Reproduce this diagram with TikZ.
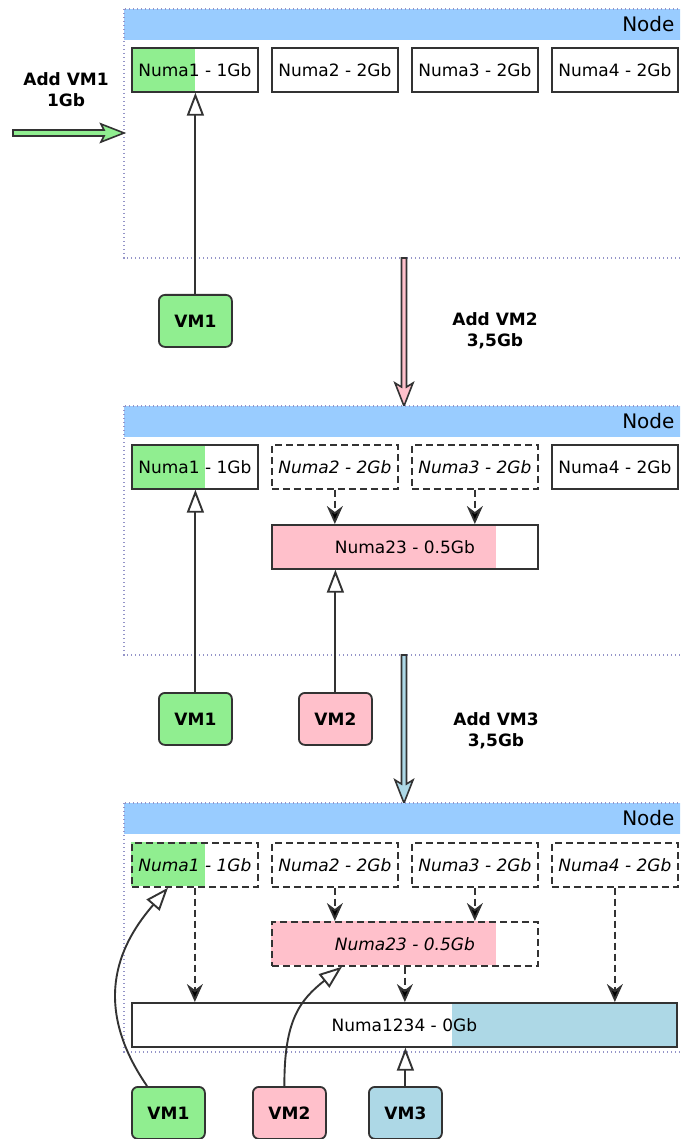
\documentclass[tikz,border=0pt]{standalone}
\usepackage{fontspec}
\setmainfont{DejaVu Sans}
\usetikzlibrary{arrows.meta,calc}
\definecolor{hdr}{HTML}{99CCFF}
\definecolor{lgreen}{HTML}{90EE90}
\definecolor{lpink}{HTML}{FFC0CB}
\definecolor{lblue}{HTML}{ADD8E6}
\definecolor{dotc}{HTML}{9494C8}
\definecolor{edge}{HTML}{333333}
\tikzset{
 numa/.style={draw=edge, line width=1.7pt, minimum width=126pt, minimum height=44pt, inner sep=0pt, font=\fontsize{17}{20}\selectfont, anchor=north west},
 numadash/.style={numa, dash pattern=on 7pt off 4pt, font=\fontsize{17}{20}\selectfont\itshape},
 vm/.style={draw=edge, line width=1.8pt, rounded corners=6pt, minimum width=73pt, minimum height=52pt, inner sep=0pt, font=\fontsize{17}{20}\selectfont\bfseries, anchor=north west},
 nodeframe/.style={draw=dotc, line width=1.6pt, dash pattern=on 1.4pt off 2.6pt},
 hdrtext/.style={anchor=east, font=\fontsize{20}{24}\selectfont},
 addlbl/.style={font=\fontsize{17}{21}\selectfont\bfseries, align=center},
 vmarrow/.style={draw=edge, line width=1.9pt, -{Triangle[length=23pt,width=17pt,fill=white]}},
 merge/.style={draw=edge, line width=1.9pt, dash pattern=on 7pt off 4pt, -{Stealth[length=18pt,width=16pt,inset=6pt,fill=black]}},
 fatarrow/.style={draw=edge, line width=1.6pt},
}
\begin{document}
\begin{tikzpicture}[x=1pt,y=-1pt]
\useasboundingbox (0,0) rectangle (680,1139);
\clip (0,0) rectangle (680,1139);

% ---------------- Frame 1 ----------------
\fill[hdr] (124,9) rectangle (700,40);
\draw[nodeframe] (124,9) rectangle (700,258);
\node[hdrtext] (h1) at (678,24.5) {Node};
\fill[lgreen] (131,47) rectangle (195,91);
\node[numa] (a1) at (131,47) {Numa1 - 1Gb};
\node[numa] (a2) at (271,47) {Numa2 - 2Gb};
\node[numa] (a3) at (411,47) {Numa3 - 2Gb};
\node[numa] (a4) at (551,47) {Numa4 - 2Gb};
\node[vm, fill=lgreen] (v1a) at (158,294) {VM1};
\draw[vmarrow] (v1a.north) -- (v1a.north |- a1.south);

\node[addlbl] (l1) at (66,89.5) {Add VM1\\1Gb};
\coordinate (g1s) at (13,133);
\coordinate (g1t) at (124,133);
\filldraw[fatarrow, fill=lgreen] ($(g1s)+(0,-3)$) -- ($(g1t)+(-20,-3)$) -- ($(g1t)+(-23,-9)$) -- (g1t) -- ($(g1t)+(-23,9)$) -- ($(g1t)+(-20,3)$) -- ($(g1s)+(0,3)$) -- cycle;

% ---------------- transition 1 -> 2 ----------------
\node[addlbl] (l2) at (495,330.5) {Add VM2\\3,5Gb};
\coordinate (p1s) at (404,258);
\coordinate (p1t) at (404,406);
\filldraw[fatarrow, fill=lpink] ($(p1s)+(-2.5,0)$) -- ($(p1t)+(-2.5,-19)$) -- ($(p1t)+(-9,-23)$) -- (p1t) -- ($(p1t)+(9,-23)$) -- ($(p1t)+(2.5,-19)$) -- ($(p1s)+(2.5,0)$) -- cycle;

% ---------------- Frame 2 ----------------
\fill[hdr] (124,406) rectangle (700,437);
\draw[nodeframe] (124,406) rectangle (700,655);
\node[hdrtext] (h2) at (678,421.5) {Node};
\fill[lgreen] (131,444) rectangle (205,488);
\node[numa] (b1) at (131,444) {Numa1 - 1Gb};
\node[numadash] (b2) at (271,444) {Numa2 - 2Gb};
\node[numadash] (b3) at (411,444) {Numa3 - 2Gb};
\node[numa] (b4) at (551,444) {Numa4 - 2Gb};
\fill[lpink] (271,524) rectangle (496,568);
\node[numa, minimum width=266pt] (c23) at (271,524) {Numa23 - 0.5Gb};
\draw[merge] (b2.south) -- (b2.south |- c23.north);
\draw[merge] (b3.south) -- (b3.south |- c23.north);
\node[vm, fill=lgreen] (v1b) at (158,692) {VM1};
\node[vm, fill=lpink] (v2b) at (298,692) {VM2};
\draw[vmarrow] (v1b.north) -- (v1b.north |- b1.south);
\draw[vmarrow] (v2b.north) -- (v2b.north |- c23.south);

% ---------------- transition 2 -> 3 ----------------
\node[addlbl] (l3) at (496,730.5) {Add VM3\\3,5Gb};
\coordinate (p2s) at (404,655);
\coordinate (p2t) at (404,803);
\filldraw[fatarrow, fill=lblue] ($(p2s)+(-2.5,0)$) -- ($(p2t)+(-2.5,-19)$) -- ($(p2t)+(-9,-23)$) -- (p2t) -- ($(p2t)+(9,-23)$) -- ($(p2t)+(2.5,-19)$) -- ($(p2s)+(2.5,0)$) -- cycle;

% ---------------- Frame 3 ----------------
\fill[hdr] (124,803) rectangle (700,834);
\draw[nodeframe] (124,803) rectangle (700,1052);
\node[hdrtext] (h3) at (678,818.5) {Node};
\fill[lgreen] (131,842) rectangle (205,886);
\node[numadash] (d1) at (131,842) {Numa1 - 1Gb};
\node[numadash] (d2) at (271,842) {Numa2 - 2Gb};
\node[numadash] (d3) at (411,842) {Numa3 - 2Gb};
\node[numadash] (d4) at (551,842) {Numa4 - 2Gb};
\fill[lpink] (271,921) rectangle (496,965);
\node[numadash, minimum width=266pt] (e23) at (271,921) {Numa23 - 0.5Gb};
\fill[lblue] (452,1002) rectangle (676,1046);
\node[numa, minimum width=545pt] (f) at (131,1002) {Numa1234 - 0Gb};
\draw[merge] (d1.south) -- (d1.south |- f.north);
\draw[merge] (d2.south) -- (d2.south |- e23.north);
\draw[merge] (d3.south) -- (d3.south |- e23.north);
\draw[merge] (e23.south) -- (e23.south |- f.north);
\draw[merge] (d4.south) -- (d4.south |- f.north);
\node[vm, fill=lgreen] (v1c) at (131,1086) {VM1};
\node[vm, fill=lpink] (v2c) at (252,1086) {VM2};
\node[vm, fill=lblue] (v3c) at (368,1086) {VM3};
\draw[vmarrow] (v3c.north) -- (v3c.north |- f.south);
\draw[vmarrow] ([xshift=16pt]v1c.north west) .. controls (88,1000) and (123,940) .. ([xshift=37pt]d1.south west);
\draw[vmarrow] ([xshift=-5pt]v2c.north) .. controls (284,1020) and (300,1000) .. ([xshift=71pt]e23.south west);
\end{tikzpicture}
\end{document}
